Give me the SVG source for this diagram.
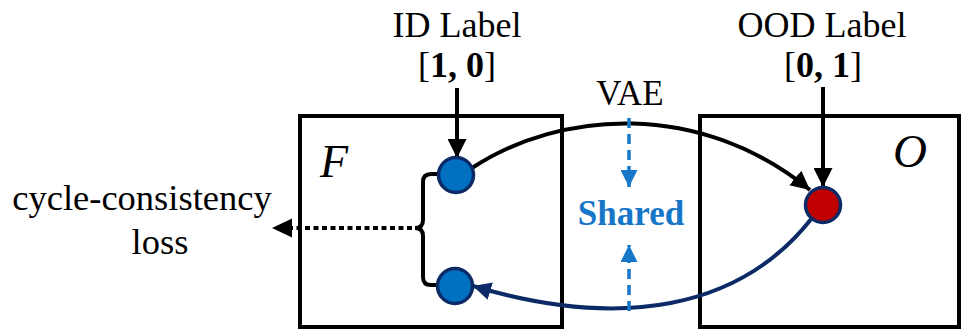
<svg xmlns="http://www.w3.org/2000/svg" width="961" height="329" viewBox="0 0 961 329">
<style>
.t{font-family:"Liberation Serif","Times New Roman",serif;fill:#000;}
.box{fill:none;stroke:#000;stroke-width:4;}
.node{stroke:#0B2A66;stroke-width:3.5;}
.blk{fill:none;stroke:#000;stroke-width:4;}
.nav{fill:none;stroke:#0B2A66;stroke-width:4;}
.sh{fill:none;stroke:#1677C8;stroke-width:3.5;stroke-dasharray:10 6;}
</style>
<defs>
<marker id="ab" viewBox="0 0 10 10" refX="10" refY="5" markerWidth="19" markerHeight="19" markerUnits="userSpaceOnUse" orient="auto"><path d="M0,0 L10,5 L0,10 z" fill="#000"/></marker>
<marker id="an" viewBox="0 0 10 10" refX="10" refY="5" markerWidth="18" markerHeight="18" markerUnits="userSpaceOnUse" orient="auto"><path d="M0,0 L10,5 L0,10 z" fill="#0B2A66"/></marker>
<marker id="as" viewBox="0 0 10 10" refX="10" refY="5" markerWidth="17" markerHeight="17" markerUnits="userSpaceOnUse" orient="auto"><path d="M0,0 L10,5 L0,10 z" fill="#1677C8"/></marker>
</defs>
<g id="box-F">
<rect class="box" x="300" y="116" width="262" height="211"/>
<text class="t" x="320" y="177" font-size="46" font-style="italic">F</text>
</g>
<g id="box-O">
<rect class="box" x="700" y="116" width="259" height="211"/>
<text class="t" x="893" y="167" font-size="47" font-style="italic">O</text>
</g>
<g id="id-label">
<text class="t" x="457" y="37" font-size="36" text-anchor="middle">ID Label</text>
<text class="t" x="457" y="77" font-size="36" text-anchor="middle">[<tspan font-weight="bold">1, 0</tspan>]</text>
</g>
<g id="ood-label">
<text class="t" x="822" y="37" font-size="36" text-anchor="middle">OOD Label</text>
<text class="t" x="823" y="77" font-size="36" text-anchor="middle">[<tspan font-weight="bold">0, 1</tspan>]</text>
</g>
<g id="vae">
<text class="t" x="630" y="105" font-size="35" text-anchor="middle">VAE</text>
</g>
<g id="shared">
<text x="631" y="225" font-size="35" font-weight="bold" text-anchor="middle" font-family="Liberation Serif, Times New Roman, serif" fill="#1677C8">Shared</text>
</g>
<g id="loss">
<text class="t" x="142" y="210" font-size="36.5" text-anchor="middle">cycle-consistency</text>
<text class="t" x="160" y="254" font-size="36.5" text-anchor="middle">loss</text>
</g>
<g id="connectors">
<line class="blk" x1="457" y1="88" x2="457" y2="158" marker-end="url(#ab)"/>
<line class="blk" x1="823" y1="87" x2="823" y2="187" marker-end="url(#ab)"/>
<path class="blk" d="M472,168 C560,110 700,100 810,190" marker-end="url(#ab)"/>
<path class="nav" d="M812,218 C740,310 620,330 473,286" marker-end="url(#an)"/>
<line class="sh" x1="629" y1="118" x2="629" y2="187" marker-end="url(#as)"/>
<line class="sh" x1="629" y1="311" x2="629" y2="245" marker-end="url(#as)"/>
<path class="blk" d="M437,174 L431,174 Q423,174 423,182 L423,220 Q423,228 415,228 Q423,228 423,236 L423,277 Q423,285 431,285 L437,285"/>
<line x1="412" y1="228" x2="288" y2="228" stroke="#000" stroke-width="4" stroke-dasharray="5 3.5"/>
<path d="M272,228 L292,218.5 L292,237.5 z" fill="#000"/>
</g>
<g id="node-id-top"><circle class="node" cx="456" cy="175" r="17.5" fill="#0070C0"/></g>
<g id="node-id-bottom"><circle class="node" cx="455" cy="286" r="17.5" fill="#0070C0"/></g>
<g id="node-ood"><circle class="node" cx="823" cy="205" r="17.5" fill="#C00000"/></g>
</svg>
